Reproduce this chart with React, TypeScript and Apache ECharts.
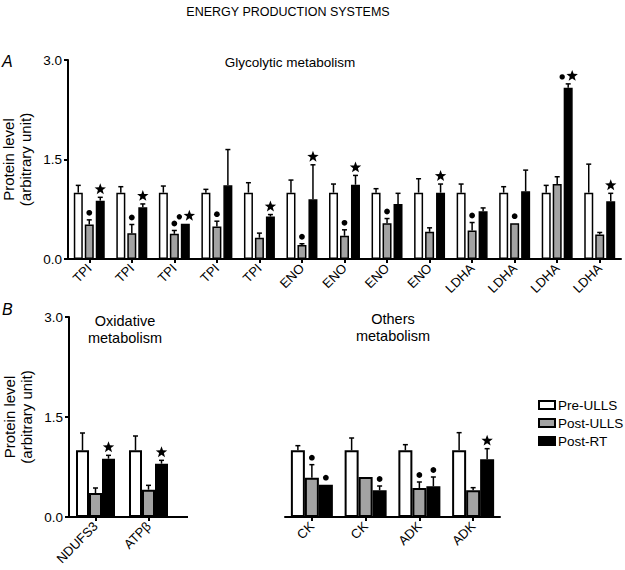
import React, { useEffect, useRef } from "react";
import * as echarts from "echarts";

// ---- Panel A: glycolytic metabolism ----
const catsA = ["TPI", "TPI", "TPI", "TPI", "TPI", "ENO", "ENO", "ENO", "ENO", "LDHA", "LDHA", "LDHA", "LDHA"];
const preA = [1, 1, 1, 1, 1, 1, 1, 1, 1, 1, 1, 1, 1];
const preErrA = [1.11, 1.09, 1.1, 1.05, 1.15, 1.19, 1.13, 1.06, 1.21, 1.13, 1.09, 1.11, 1.43];
const postUllsA = [0.52, 0.39, 0.38, 0.49, 0.32, 0.21, 0.35, 0.54, 0.41, 0.43, 0.54, 1.13, 0.37];
const postUllsErrA = [0.59, 0.52, 0.43, 0.57, 0.39, 0.23, 0.44, 0.61, 0.47, 0.55, 0.54, 1.24, 0.4];
const postRtA = [0.88, 0.78, 0.53, 1.11, 0.64, 0.9, 1.12, 0.83, 1.0, 0.72, 1.02, 2.58, 0.87];
const postRtErrA = [0.93, 0.83, 0.53, 1.65, 0.67, 1.42, 1.26, 0.99, 1.13, 0.77, 1.34, 2.64, 0.99];
// markers: 0 none, 1 dot, 2 star, 3 dot+star
const postUllsMarkA = [1, 1, 1, 1, 0, 1, 1, 1, 0, 1, 1, 0, 0];
const postRtMarkA = [2, 2, 3, 0, 2, 2, 2, 0, 2, 0, 0, 3, 2];

// ---- Panel B left: oxidative metabolism ----
const catsB1 = ["NDUFS3", "ATPβ"];
const preB1 = [1, 1];
const preErrB1 = [1.26, 1.215];
const postUllsB1 = [0.36, 0.41];
const postUllsErrB1 = [0.435, 0.475];
const postRtB1 = [0.875, 0.8];
const postRtErrB1 = [0.925, 0.85];
const postUllsMarkB1 = [0, 0];
const postRtMarkB1 = [2, 2];

// ---- Panel B right: others metabolism ----
const catsB2 = ["CK", "CK", "ADK", "ADK"];
const preB2 = [1, 1, 1, 1];
const preErrB2 = [1.07, 1.185, 1.085, 1.265];
const postUllsB2 = [0.59, 0.6, 0.435, 0.4];
const postUllsErrB2 = [0.785, 0.6, 0.525, 0.44];
const postRtB2 = [0.485, 0.4, 0.46, 0.865];
const postRtErrB2 = [0.485, 0.465, 0.6, 1.025];
const postUllsMarkB2 = [1, 0, 1, 0];
const postRtMarkB2 = [1, 1, 1, 2];

const seriesNames = ["Pre-ULLS", "Post-ULLS", "Post-RT"];
const yTicks = { min: 0, max: 3, interval: 1.5 };

const FONT = "'Liberation Sans', Arial, Helvetica, sans-serif";
const colors = ["#ffffff", "#a3a3a3", "#000000"];

function starPoints(cx: number, cy: number, R: number, r: number) {
  const pts: number[][] = [];
  for (let i = 0; i < 10; i++) {
    const rad = i % 2 === 0 ? R : r;
    const a = -Math.PI / 2 + (i * Math.PI) / 5;
    pts.push([cx + rad * Math.cos(a), cy + rad * Math.sin(a)]);
  }
  return pts;
}

function buildErrData(vals: number[][], errs: number[][], marks: number[][]) {
  const out: number[][] = [];
  for (let s = 0; s < 3; s++) {
    for (let i = 0; i < vals[s].length; i++) {
      out.push([i, s, vals[s][i], errs[s][i], marks[s][i]]);
    }
  }
  return out;
}

function makeErrSeries(gridIdx: number, data: number[][], bw: number, gap: number) {
  return {
    type: "custom",
    xAxisIndex: gridIdx,
    yAxisIndex: gridIdx,
    z: 5,
    clip: false,
    silent: true,
    encode: { x: 0, y: 3 },
    data,
    renderItem: (params: any, api: any) => {
      const cat = api.value(0);
      const s = api.value(1);
      const v = api.value(2);
      const e = api.value(3);
      const m = api.value(4);
      const pv = api.coord([cat, v]);
      const pe = api.coord([cat, e]);
      const x = pv[0] + (s - 1) * (bw + gap);
      const children: any[] = [];
      const lw = 1.5;
      if (e > v) {
        children.push({
          type: "line",
          shape: { x1: x, y1: pv[1], x2: x, y2: pe[1] },
          style: { stroke: "#000", lineWidth: lw },
        });
        children.push({
          type: "line",
          shape: { x1: x - 2.5, y1: pe[1], x2: x + 2.5, y2: pe[1] },
          style: { stroke: "#000", lineWidth: lw },
        });
      }
      const topY = Math.min(pv[1], pe[1]) - 8;
      if (m === 1) {
        children.push({ type: "circle", shape: { cx: x, cy: topY + 1, r: 2.9 }, style: { fill: "#000" } });
      } else if (m === 2) {
        children.push({ type: "polygon", shape: { points: starPoints(x, topY, 6, 2.5) }, style: { fill: "#000" } });
      } else if (m === 3) {
        children.push({ type: "circle", shape: { cx: x - 6, cy: topY + 1, r: 2.7 }, style: { fill: "#000" } });
        children.push({ type: "polygon", shape: { points: starPoints(x + 4, topY, 6, 2.5) }, style: { fill: "#000" } });
      }
      return { type: "group", children };
    },
  };
}

function makeBars(gridIdx: number, vals: number[][], bw: number, gapPct: string, bwid: number) {
  return vals.map((d, s) => ({
    type: "bar",
    name: seriesNames[s],
    xAxisIndex: gridIdx,
    yAxisIndex: gridIdx,
    data: d,
    barWidth: bw,
    barGap: gapPct,
    itemStyle: { color: colors[s], borderColor: "#000", borderWidth: bwid },
    z: 2,
  }));
}

function xAxisCfg(gridIdx: number, cats: string[]) {
  return {
    type: "category",
    gridIndex: gridIdx,
    data: cats,
    axisLine: { show: true, lineStyle: { color: "#000", width: 2 } },
    axisTick: { show: true, alignWithLabel: true, length: 4, lineStyle: { color: "#000", width: 2 } },
    axisLabel: { rotate: 45, fontSize: 13, color: "#000", fontFamily: FONT, margin: 7, interval: 0 },
    splitLine: { show: false },
  };
}

function yAxisCfg(gridIdx: number, show: boolean, withName: boolean) {
  return {
    type: "value",
    gridIndex: gridIdx,
    show,
    min: yTicks.min,
    max: yTicks.max,
    interval: yTicks.interval,
    name: withName ? "Protein level\n(arbitrary unit)" : "",
    nameLocation: "middle",
    nameRotate: 90,
    nameGap: 34,
    nameMoveOverlap: false,
    nameTextStyle: { fontSize: 15, color: "#000", fontFamily: FONT, lineHeight: 17 },
    axisLine: { show: true, lineStyle: { color: "#000", width: 2 } },
    axisTick: { show: true, length: 4, lineStyle: { color: "#000", width: 2 } },
    axisLabel: { fontSize: 13.5, color: "#000", fontFamily: FONT, margin: 6, formatter: (v: number) => v.toFixed(1) },
    splitLine: { show: false },
  };
}

export default function App() {
  const ref = useRef<HTMLDivElement>(null);
  useEffect(() => {
    document.body.style.margin = "0";
    if (!ref.current) return;
    const chart = echarts.init(ref.current, undefined, { renderer: "svg" });

    const valsA = [preA, postUllsA, postRtA];
    const errsA = [preErrA, postUllsErrA, postRtErrA];
    const marksA = [preA.map(() => 0), postUllsMarkA, postRtMarkA];
    const valsB1 = [preB1, postUllsB1, postRtB1];
    const errsB1 = [preErrB1, postUllsErrB1, postRtErrB1];
    const marksB1 = [preB1.map(() => 0), postUllsMarkB1, postRtMarkB1];
    const valsB2 = [preB2, postUllsB2, postRtB2];
    const errsB2 = [preErrB2, postUllsErrB2, postRtErrB2];
    const marksB2 = [preB2.map(() => 0), postUllsMarkB2, postRtMarkB2];

    const textStyle = { fill: "#000", fontFamily: FONT, fontSize: 13 };

    chart.setOption({
      animation: false,
      textStyle: { fontFamily: FONT },
      grid: [
        { left: 68, top: 60, width: 553, height: 199, outerBoundsMode: "none", containLabel: false },
        { left: 69, top: 317, width: 106, height: 200, outerBoundsMode: "none", containLabel: false },
        { left: 285, top: 317, width: 215, height: 200, outerBoundsMode: "none", containLabel: false },
      ],
      xAxis: [xAxisCfg(0, catsA), xAxisCfg(1, catsB1), xAxisCfg(2, catsB2)],
      yAxis: [yAxisCfg(0, true, true), yAxisCfg(1, true, true), yAxisCfg(2, false, false)],
      legend: {
        data: seriesNames,
        orient: "vertical",
        left: 533,
        top: 393,
        itemWidth: 16,
        itemHeight: 8,
        itemGap: 4,
        icon: "rect",
        textStyle: { fontSize: 13.5, color: "#000", fontFamily: FONT, padding: [0, 0, 0, -2] },
      },
      graphic: [
        { type: "text", x: 288, y: 5, style: { ...textStyle, text: "ENERGY PRODUCTION SYSTEMS", textAlign: "center", fontSize: 12.5 } },
        { type: "text", x: 2, y: 53, style: { ...textStyle, text: "A", fontSize: 16, fontStyle: "italic" } },
        { type: "text", x: 290, y: 55, style: { ...textStyle, text: "Glycolytic metabolism", textAlign: "center", fontSize: 13.5 } },
        { type: "text", x: 2, y: 301, style: { ...textStyle, text: "B", fontSize: 16, fontStyle: "italic" } },
        { type: "text", x: 125, y: 312, style: { ...textStyle, text: "Oxidative\nmetabolism", textAlign: "center", fontSize: 14.5, lineHeight: 17 } },
        { type: "text", x: 393, y: 310, style: { ...textStyle, text: "Others\nmetabolism", textAlign: "center", fontSize: 14.5, lineHeight: 17 } },
        { type: "line", shape: { x1: 174, y1: 517, x2: 188, y2: 517 }, style: { stroke: "#000", lineWidth: 2 } },
      ],
      series: [
        ...makeBars(0, valsA, 9, "22%", 1.5),
        makeErrSeries(0, buildErrData(valsA, errsA, marksA), 9, 2),
        ...makeBars(1, valsB1, 13, "0%", 2),
        makeErrSeries(1, buildErrData(valsB1, errsB1, marksB1), 13, 0),
        ...makeBars(2, valsB2, 14, "0%", 2),
        makeErrSeries(2, buildErrData(valsB2, errsB2, marksB2), 14, 0),
      ],
    });
    return () => chart.dispose();
  }, []);
  return <div ref={ref} style={{ width: 625, height: 570 }} />;
}
